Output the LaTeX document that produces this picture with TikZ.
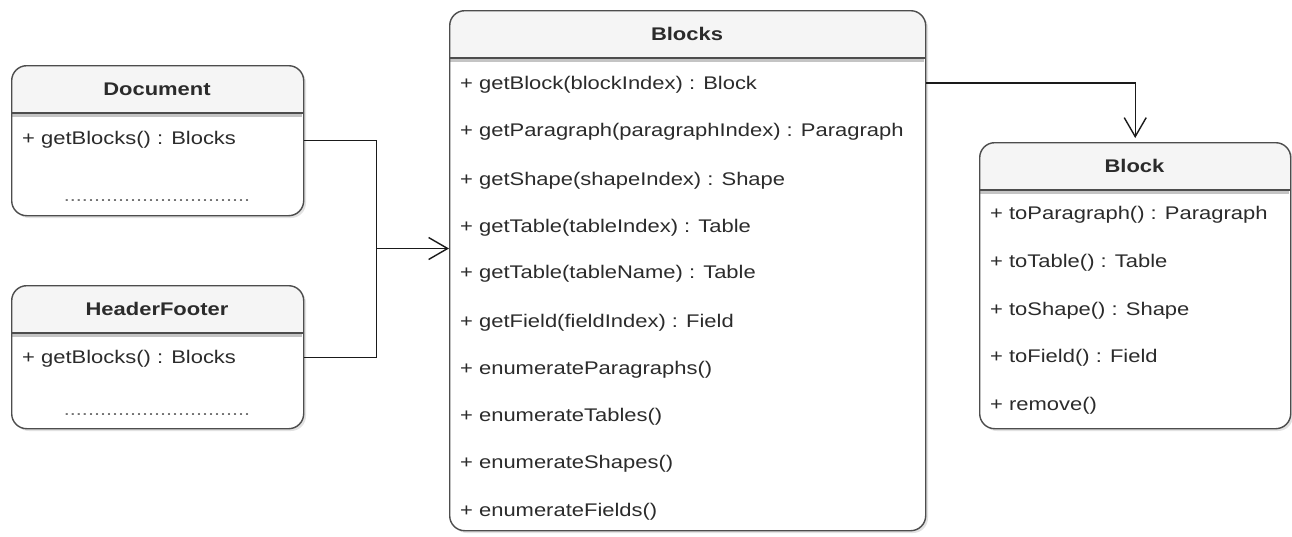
\documentclass[tikz,border=0pt]{standalone}
\usepackage{fontspec}
\setmainfont{Liberation Sans}[FakeStretch=1.2]
\usetikzlibrary{arrows.meta,calc}
\definecolor{bord}{HTML}{4D4D4D}
\definecolor{headf}{HTML}{F5F5F5}
\definecolor{shad}{HTML}{E2E2E2}
\definecolor{txt}{HTML}{2B2B2B}
\definecolor{sepband}{HTML}{C4C4C4}
\definecolor{linec}{HTML}{1A1A1A}
\newcommand\umlclass[7]{% name, x1, y1, x2, y2, header bottom, title
  \fill[shad, rounded corners=15pt] (#2+3,#3+3) rectangle (#4+3,#5+3);
  \fill[white, rounded corners=15pt] (#2,#3) rectangle (#4,#5);
  \fill[headf] (#2,#6) [rounded corners=15pt]-- (#2,#3) -- (#4,#3) [sharp corners]-- (#4,#6) -- cycle;
  \draw[sepband, line width=3pt] (#2+1,#6+2.5) -- (#4-1,#6+2.5);
  \draw[bord, line width=1.4pt] (#2,#6) -- (#4,#6);
  \node[classframe, minimum width={(#4-#2)*1pt}, minimum height={(#5-#3)*1pt}] (#1) at (#2,#3) {};
  \node[titletext] (#1-title) at ({(#2+#4)/2},{(#3+#6)/2}) {#7};
}
\begin{document}
\begin{tikzpicture}[x=1pt,y=-1pt,
  classframe/.style={draw=bord, line width=1.4pt, rounded corners=15pt, rectangle, inner sep=0pt, anchor=north west},
  titletext/.style={font=\fontsize{18.3}{21}\selectfont\bfseries, text=txt, inner sep=0pt, text height=13pt, text depth=0pt},
  row/.style={font=\fontsize{18.3}{21}\selectfont, text=txt, anchor=west, inner sep=0pt, text height=13pt, text depth=0pt},
  dots/.style={font=\fontsize{18}{21}\selectfont, text=black!55, inner sep=0pt, text height=13pt, text depth=0pt},
  conn/.style={draw=linec, line width=1.4pt},
  arr/.style={conn, -{Straight Barb[length=19pt, width=22pt, line width=1.4pt]}, shorten >=4pt},
  arrl/.style={conn, -{Straight Barb[length=19pt, width=22pt, line width=1.4pt]}},
]
\useasboundingbox (0,0) rectangle (1292,536);

% Document
\umlclass{doc}{11}{65}{303}{215}{113}{Document}
\node[row] (doc-r1) at (22,138) {+ getBlocks() : Blocks};
\node[dots] (doc-dots) at (157,195) {...............................};

% HeaderFooter
\umlclass{hf}{11}{285}{303}{428}{333}{HeaderFooter}
\node[row] (hf-r1) at (22,357) {+ getBlocks() : Blocks};
\node[dots] (hf-dots) at (157,409) {...............................};

% Blocks
\umlclass{blocks}{449}{10}{925}{530}{58}{Blocks}
\node[row] (b1) at (460,83) {+ getBlock(blockIndex) : Block};
\node[row] (b2) at (460,130) {+ getParagraph(paragraphIndex) : Paragraph};
\node[row] (b3) at (460,179) {+ getShape(shapeIndex) : Shape};
\node[row] (b4) at (460,226) {+ getTable(tableIndex) : Table};
\node[row] (b5) at (460,272) {+ getTable(tableName) : Table};
\node[row] (b6) at (460,321) {+ getField(fieldIndex) : Field};
\node[row] (b7) at (460,368) {+ enumerateParagraphs()};
\node[row] (b8) at (460,415) {+ enumerateTables()};
\node[row] (b9) at (460,462) {+ enumerateShapes()};
\node[row] (b10) at (460,510) {+ enumerateFields()};

% Block
\umlclass{block}{979}{142}{1290}{428}{190}{Block}
\node[row] (k1) at (990,213) {+ toParagraph() : Paragraph};
\node[row] (k2) at (990,261) {+ toTable() : Table};
\node[row] (k3) at (990,309) {+ toShape() : Shape};
\node[row] (k4) at (990,356) {+ toField() : Field};
\node[row] (k5) at (990,404) {+ remove()};

% connectors
\coordinate (jn) at (376.5,248.5);
\draw[conn] (doc.east) -| (jn);
\draw[conn] (hf.east) -| (jn);
\draw[arrl] (jn) -- (jn -| blocks.west);
\draw[arr] (blocks.east |- b1.west) -| (block.north);
\end{tikzpicture}
\end{document}
